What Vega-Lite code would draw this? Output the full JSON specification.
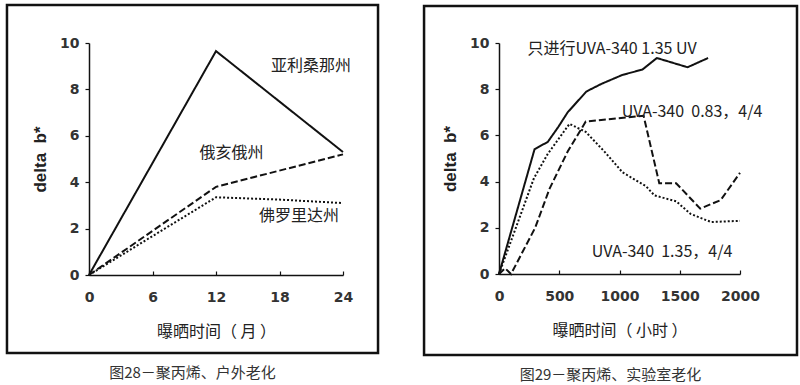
{
  "$schema": "https://vega.github.io/schema/vega-lite/v6.json",
  "padding": {"left": 5, "top": 3, "right": 0, "bottom": 0},
  "background": "white",
  "spacing": 42,
  "config": {
    "view": {"stroke": null},
    "axis": {
      "grid": false,
      "domainColor": "#111",
      "domainWidth": 1.5,
      "tickColor": "#111",
      "tickWidth": 1.2,
      "labelFont": "DejaVu Sans",
      "labelFontWeight": "bold",
      "labelFontSize": 14,
      "labelColor": "#333",
      "labelFlush": false,
      "labelOverlap": false,
      "labelBound": false,
      "titleColor": "#222"
    },
    "axisX": {
      "tickSize": -4,
      "labelPadding": 19,
      "titleFont": "Noto Sans CJK SC",
      "titleFontSize": 16,
      "titleFontWeight": "normal",
      "titlePadding": 19
    },
    "axisY": {
      "tickSize": 4,
      "labelPadding": 6,
      "titleFont": "Liberation Sans",
      "titleFontSize": 17,
      "titleFontWeight": "bold",
      "titlePadding": 10
    }
  },
  "hconcat": [
    {
      "width": 254,
      "height": 232,
      "title": {"text": "图28－聚丙烯、户外老化", "orient": "bottom", "frame": "bounds", "anchor": "middle", "font": "Noto Sans CJK SC", "fontSize": 15, "fontWeight": "normal", "color": "#333", "offset": 12},
      "layer": [
        {
          "data": {"values": [
            {"month": 0, "state": "亚利桑那州", "b": 0},
            {"month": 12, "state": "亚利桑那州", "b": 9.65},
            {"month": 24, "state": "亚利桑那州", "b": 5.3},
            {"month": 0, "state": "俄亥俄州", "b": 0},
            {"month": 12, "state": "俄亥俄州", "b": 3.8},
            {"month": 24, "state": "俄亥俄州", "b": 5.2},
            {"month": 0, "state": "佛罗里达州", "b": 0},
            {"month": 12, "state": "佛罗里达州", "b": 3.35},
            {"month": 18, "state": "佛罗里达州", "b": 3.25},
            {"month": 24, "state": "佛罗里达州", "b": 3.1}
          ]},
          "mark": {"type": "line", "color": "#111", "strokeWidth": 2},
          "encoding": {
            "x": {"field": "month", "type": "quantitative", "scale": {"domain": [0, 24], "nice": false},
                  "axis": {"title": "曝晒时间（\u00a0月\u00a0）", "values": [0, 3, 6, 9, 12, 15, 18, 21, 24], "labelExpr": "datum.value % 6 == 0 ? datum.label : ''"}},
            "y": {"field": "b", "type": "quantitative", "scale": {"domain": [0, 10], "nice": false},
                  "axis": {"title": "delta\u00a0\u00a0b*", "values": [0, 1, 2, 3, 4, 5, 6, 7, 8, 9, 10], "labelExpr": "datum.value % 2 == 0 ? datum.label : ''"}},
            "strokeDash": {"field": "state", "type": "nominal", "scale": {"domain": ["亚利桑那州", "俄亥俄州", "佛罗里达州"], "range": [[1, 0], [7, 3], [2, 2]]}, "legend": null}
          }
        },
        {
          "data": {"values": [{"frame": "left"}]},
          "mark": {"type": "rect", "filled": false, "stroke": "#111", "strokeWidth": 2.5},
          "encoding": {"x": {"datum": -7.75}, "x2": {"datum": 27.31}, "y": {"datum": 11.64}, "y2": {"datum": -3.36}}
        },
        {
          "data": {"values": [{"label": "亚利桑那州"}]},
          "mark": {"type": "text", "font": "Noto Sans CJK SC", "fontSize": 16, "color": "#222", "align": "center", "baseline": "middle"},
          "encoding": {"x": {"datum": 20.98}, "y": {"datum": 9.01}, "text": {"field": "label"}}
        },
        {
          "data": {"values": [{"label": "俄亥俄州"}]},
          "mark": {"type": "text", "font": "Noto Sans CJK SC", "fontSize": 16, "color": "#222", "align": "center", "baseline": "middle"},
          "encoding": {"x": {"datum": 13.46}, "y": {"datum": 5.26}, "text": {"field": "label"}}
        },
        {
          "data": {"values": [{"label": "佛罗里达州"}]},
          "mark": {"type": "text", "font": "Noto Sans CJK SC", "fontSize": 16, "color": "#222", "align": "center", "baseline": "middle"},
          "encoding": {"x": {"datum": 19.84}, "y": {"datum": 2.54}, "text": {"field": "label"}}
        }
      ]
    },
    {
      "width": 241,
      "height": 231,
      "title": {"text": "图29－聚丙烯、实验室老化", "orient": "bottom", "frame": "bounds", "anchor": "middle", "font": "Noto Sans CJK SC", "fontSize": 15, "fontWeight": "normal", "color": "#333", "offset": 12},
      "layer": [
        {
          "data": {"values": [
            {"hours": 0, "series": "UV", "b": 0},
            {"hours": 295, "series": "UV", "b": 5.4},
            {"hours": 405, "series": "UV", "b": 5.72},
            {"hours": 490, "series": "UV", "b": 6.35},
            {"hours": 570, "series": "UV", "b": 7.0},
            {"hours": 725, "series": "UV", "b": 7.9},
            {"hours": 850, "series": "UV", "b": 8.23},
            {"hours": 1025, "series": "UV", "b": 8.62},
            {"hours": 1190, "series": "UV", "b": 8.85},
            {"hours": 1310, "series": "UV", "b": 9.35},
            {"hours": 1565, "series": "UV", "b": 8.95},
            {"hours": 1735, "series": "UV", "b": 9.35},
            {"hours": 0, "series": "0.83", "b": 0},
            {"hours": 50, "series": "0.83", "b": 0.25},
            {"hours": 100, "series": "0.83", "b": 0},
            {"hours": 300, "series": "0.83", "b": 2.0},
            {"hours": 420, "series": "0.83", "b": 3.7},
            {"hours": 570, "series": "0.83", "b": 5.3},
            {"hours": 720, "series": "0.83", "b": 6.6},
            {"hours": 1200, "series": "0.83", "b": 6.85},
            {"hours": 1330, "series": "0.83", "b": 3.93},
            {"hours": 1470, "series": "0.83", "b": 3.93},
            {"hours": 1670, "series": "0.83", "b": 2.83},
            {"hours": 1840, "series": "0.83", "b": 3.2},
            {"hours": 2000, "series": "0.83", "b": 4.38},
            {"hours": 0, "series": "1.35", "b": 0},
            {"hours": 290, "series": "1.35", "b": 4.15},
            {"hours": 405, "series": "1.35", "b": 5.2},
            {"hours": 585, "series": "1.35", "b": 6.5},
            {"hours": 720, "series": "1.35", "b": 6.15},
            {"hours": 875, "series": "1.35", "b": 5.3},
            {"hours": 1025, "series": "1.35", "b": 4.4},
            {"hours": 1220, "series": "1.35", "b": 3.8},
            {"hours": 1290, "series": "1.35", "b": 3.4},
            {"hours": 1470, "series": "1.35", "b": 3.15},
            {"hours": 1590, "series": "1.35", "b": 2.6},
            {"hours": 1760, "series": "1.35", "b": 2.25},
            {"hours": 2000, "series": "1.35", "b": 2.3}
          ]},
          "mark": {"type": "line", "color": "#111", "strokeWidth": 2},
          "encoding": {
            "x": {"field": "hours", "type": "quantitative", "scale": {"domain": [0, 2000], "nice": false},
                  "axis": {"title": "曝晒时间（\u00a0小时\u00a0）", "values": [0, 250, 500, 750, 1000, 1250, 1500, 1750, 2000], "labelExpr": "datum.value % 500 == 0 ? datum.label : ''", "format": "d"}},
            "y": {"field": "b", "type": "quantitative", "scale": {"domain": [0, 10], "nice": false},
                  "axis": {"title": "delta\u00a0\u00a0b*", "values": [0, 1, 2, 3, 4, 5, 6, 7, 8, 9, 10], "labelExpr": "datum.value % 2 == 0 ? datum.label : ''"}},
            "strokeDash": {"field": "series", "type": "nominal", "scale": {"domain": ["UV", "0.83", "1.35"], "range": [[1, 0], [7, 4], [2, 2]]}, "legend": null}
          }
        },
        {
          "data": {"values": [{"frame": "right"}]},
          "mark": {"type": "rect", "filled": false, "stroke": "#111", "strokeWidth": 2.5},
          "encoding": {"x": {"datum": -622}, "x2": {"datum": 2473}, "y": {"datum": 11.6}, "y2": {"datum": -3.51}}
        },
        {
          "data": {"values": [{"label": "只进行UVA-340 1.35 UV"}]},
          "mark": {"type": "text", "font": "Noto Sans CJK SC", "fontSize": 16, "color": "#222", "align": "center", "baseline": "middle"},
          "encoding": {"x": {"datum": 938}, "y": {"datum": 9.73}, "text": {"field": "label"}}
        },
        {
          "data": {"values": [{"label": "UVA-340\u00a0\u00a00.83，4/4"}]},
          "mark": {"type": "text", "font": "Noto Sans CJK SC", "fontSize": 16, "color": "#222", "align": "center", "baseline": "middle"},
          "encoding": {"x": {"datum": 1602}, "y": {"datum": 7.01}, "text": {"field": "label"}}
        },
        {
          "data": {"values": [{"label": "UVA-340\u00a0\u00a01.35，4/4"}]},
          "mark": {"type": "text", "font": "Noto Sans CJK SC", "fontSize": 16, "color": "#222", "align": "center", "baseline": "middle"},
          "encoding": {"x": {"datum": 1353}, "y": {"datum": 0.97}, "text": {"field": "label"}}
        }
      ]
    }
  ]
}
